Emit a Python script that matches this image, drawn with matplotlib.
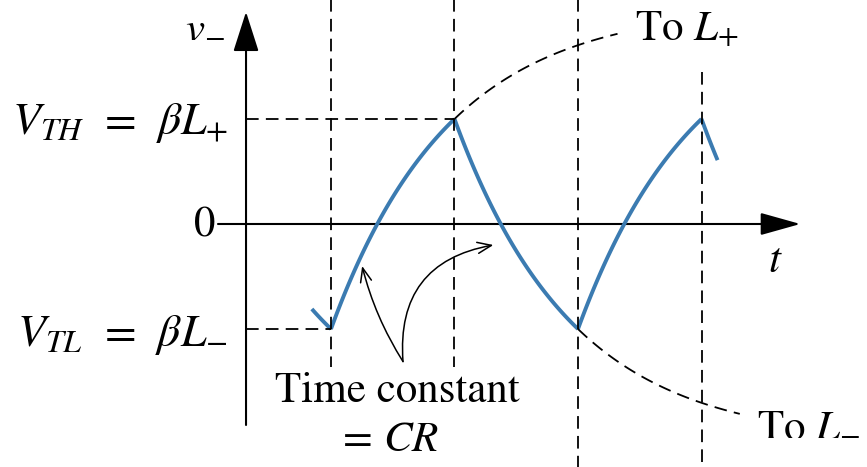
import matplotlib.pyplot as plt
import numpy as np
from matplotlib.patches import FancyArrowPatch

plt.rcParams['mathtext.fontset'] = 'stix'
plt.rcParams['font.family'] = 'STIXGeneral'

# circuit values (normalised so that beta*L+ = 1)
beta = 0.48
L_plus = 1 / beta
L_minus = -1 / beta
V_TH = beta * L_plus
V_TL = beta * L_minus
T_half = 1.0                      # time between switchings
tau = T_half / np.log((1 + beta) / (1 - beta))
t_switch = [0, 1, 2, 3]           # switching instants
t_start = -0.155                  # curve starts a bit before first switch
t_end = 3.13                      # and stops a bit after last one

blue = '#3b7bb1'

fig = plt.figure(figsize=(8.67, 4.67), dpi=100)
ax = fig.add_axes([0, 0, 1, 1])
ax.set_xlim(-2.68, 4.34)
ax.set_ylim(-2.314, 2.133)
ax.axis('off')


def charge(t, t0, v0, target):
    return target + (v0 - target) * np.exp(-(t - t0) / tau)


# capacitor voltage, segment by segment
t = np.linspace(t_start, 0, 20)
ax.plot(t, charge(t, -1, V_TH, L_minus), color=blue, lw=2.8, solid_capstyle='butt')
for i in range(3):
    t0, t1 = t_switch[i], t_switch[i + 1]
    t = np.linspace(t0, t1, 100)
    if i % 2 == 0:
        v = charge(t, t0, V_TL, L_plus)
    else:
        v = charge(t, t0, V_TH, L_minus)
    ax.plot(t, v, color=blue, lw=2.8, solid_capstyle='butt')
t = np.linspace(3, t_end, 20)
ax.plot(t, charge(t, 3, V_TH, L_minus), color=blue, lw=2.8, solid_capstyle='butt')

# dashed continuation towards L+ and L-
dash = (0, (7, 4))
dlw = 1.3
t = np.linspace(1, 2.32, 60)
ax.plot(t, charge(t, 0, V_TL, L_plus), color='k', lw=dlw, ls=dash)
t = np.linspace(2, 3.31, 60)
ax.plot(t, charge(t, 1, V_TH, L_minus), color='k', lw=dlw, ls=dash)

# vertical guides
y_axis_t = -0.688
ax.plot([0, 0], [2.2, -1.36], color='k', lw=dlw, ls=dash)
ax.plot([1, 1], [2.2, -1.36], color='k', lw=dlw, ls=dash)
ax.plot([2, 2], [2.2, -2.4], color='k', lw=dlw, ls=dash)
ax.plot([3, 3], [1.45, -2.4], color='k', lw=dlw, ls=dash)
# horizontal guides
ax.plot([y_axis_t, 1], [V_TH, V_TH], color='k', lw=dlw, ls=dash)
ax.plot([y_axis_t, 0], [V_TL, V_TL], color='k', lw=dlw, ls=dash)

# axes with arrows
ax.add_patch(FancyArrowPatch((y_axis_t, -1.914), (y_axis_t, 2.02),
                             arrowstyle='-|>,head_length=25,head_width=8',
                             mutation_scale=1, color='k', lw=1.5, shrinkA=0, shrinkB=0))
ax.add_patch(FancyArrowPatch((-0.915, 0), (3.80, 0),
                             arrowstyle='-|>,head_length=25,head_width=7',
                             mutation_scale=1, color='k', lw=1.5, shrinkA=0, shrinkB=0))

# time-constant pointers
ax.add_patch(FancyArrowPatch((0.583, -1.31), (0.252, -0.40),
                             arrowstyle='->,head_length=10,head_width=4',
                             mutation_scale=1, color='k', lw=1.1,
                             connectionstyle='arc3,rad=-0.08', shrinkA=0, shrinkB=0))
ax.add_patch(FancyArrowPatch((0.583, -1.31), (1.315, -0.20),
                             arrowstyle='->,head_length=10,head_width=4',
                             mutation_scale=1, color='k', lw=1.1,
                             connectionstyle='arc3,rad=-0.45', shrinkA=0, shrinkB=0))

fs = 31
ax.text(-0.86, 1.88, r'$v_{-}$', fontsize=fs, ha='right', va='center')
ax.text(-0.834, V_TH - 0.04, r'$V_{TH}\;\,=\;\,\beta L_{+}$', fontsize=33, ha='right', va='center')
ax.text(-0.94, -0.02, '0', fontsize=fs, ha='right', va='center')
ax.text(-0.834, V_TL - 0.06, r'$V_{TL}\;\,=\;\,\beta L_{-}$', fontsize=33, ha='right', va='center')
ax.text(3.6, -0.36, r'$t$', fontsize=fs, ha='center', va='center')
ax.text(2.46, 1.85, r'To $L_{+}$', fontsize=fs, ha='left', va='center')
ax.text(3.45, -1.91, r'To $L_{-}$', fontsize=fs, ha='left', va='center')
ax.text(0.54, -1.6, 'Time constant', fontsize=fs, ha='center', va='center')
ax.text(0.46, -2.06, r'$=\,CR$', fontsize=fs, ha='center', va='center')

plt.savefig('out.png', dpi=100)
